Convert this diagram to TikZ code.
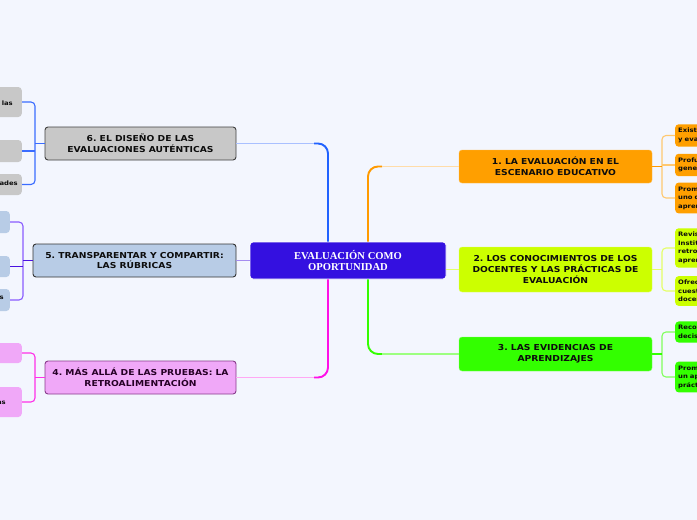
\documentclass[tikz,border=0pt]{standalone}
\usepackage{fontspec}
\newfontfamily\nf[FakeStretch=1.12]{DejaVu Sans}
\newfontfamily\cf{Liberation Serif}
\frenchspacing
\definecolor{bg}{HTML}{F3F6FE}
\definecolor{cCenter}{HTML}{3410E0}
\definecolor{cOne}{HTML}{FF9F00}
\definecolor{cTwo}{HTML}{CCFF00}
\definecolor{cThree}{HTML}{33FF00}
\definecolor{cSix}{HTML}{C8C8C8}
\definecolor{cFive}{HTML}{B8CCE6}
\definecolor{cFour}{HTML}{F0A8F8}
\definecolor{lnBlue}{HTML}{2062FF}
\definecolor{lnBlueL}{HTML}{A9C0FF}
\definecolor{lnOrange}{HTML}{FF9A00}
\definecolor{lnOrangeL}{HTML}{FFDCA8}
\definecolor{lnGreen}{HTML}{33FF00}
\definecolor{lnGreenL}{HTML}{9CFF80}
\definecolor{lnMag}{HTML}{FF10E8}
\definecolor{lnMagL}{HTML}{FFA8F4}
\definecolor{lnYel}{HTML}{E2FF70}
\definecolor{lnPur}{HTML}{A58CF0}
\definecolor{brOrange}{HTML}{FFC870}
\definecolor{brYel}{HTML}{E4FF66}
\definecolor{brGreen}{HTML}{80FF5C}
\definecolor{brBlue}{HTML}{3A6CFF}
\definecolor{brPur}{HTML}{8A5CFF}
\definecolor{brPurD}{HTML}{4A12E0}
\definecolor{brMag}{HTML}{FF30E8}
\begin{document}
\begin{tikzpicture}[x=1pt,y=-1pt,
  topic/.style={rounded corners=3pt, inner sep=0pt, align=center,
    font=\nf\bfseries\fontsize{8.2}{10.6}\selectfont, text=black!95},
  centerbox/.style={rounded corners=3pt, inner sep=0pt, align=center, fill=cCenter,
    draw=white, line width=0.8pt, text=white,
    font=\cf\bfseries\fontsize{10.6}{10.9}\selectfont},
  leafl/.style={rounded corners=3.5pt, inner sep=0pt, minimum width=80pt, anchor=east},
  rleaf/.style={rounded corners=3.5pt, anchor=west, inner xsep=3pt, inner ysep=4pt,
    text width=52pt, align=left, font=\nf\bfseries\fontsize{6.1}{8.5}\selectfont, text=black!95},
  ltext/.style={inner sep=0pt, anchor=east, font=\nf\bfseries\fontsize{6.1}{8.5}\selectfont, text=black!95},
  mainln/.style={line width=1.9pt, rounded corners=10pt},
  lightln/.style={line width=1.2pt},
  brk/.style={line width=1.1pt, rounded corners=4pt}
]
\useasboundingbox (0,0) rectangle (697,520);
\clip (0,0) rectangle (697,520);
\fill[bg] (0,0) rectangle (697,520);

% ---------- main nodes ----------
\node[centerbox, minimum width=196pt, minimum height=37pt] (c) at (348,260.5) {EVALUACIÓN COMO\\OPORTUNIDAD};
\node[topic, fill=cOne, draw=cOne!70!white, minimum width=193pt, minimum height=33pt] (n1) at (555.5,166.5) {1. LA EVALUACIÓN EN EL\\ESCENARIO EDUCATIVO};
\node[topic, fill=cTwo, draw=cTwo!60!white, minimum width=193pt, minimum height=45pt] (n2) at (555.5,269.5) {2. LOS CONOCIMIENTOS DE LOS\\DOCENTES Y LAS PRÁCTICAS DE\\EVALUACIÓN};
\node[topic, fill=cThree, draw=cThree!60!white, minimum width=193pt, minimum height=34pt] (n3) at (555.5,354) {3. LAS EVIDENCIAS DE\\APRENDIZAJES};
\node[topic, fill=cSix, draw=black!75, line width=0.9pt, minimum width=191pt, minimum height=33pt] (n6) at (140.5,143.5) {6. EL DISEÑO DE LAS\\EVALUACIONES AUTÉNTICAS};
\node[topic, fill=cFive, draw=black!80, line width=0.9pt, minimum width=203pt, minimum height=33pt] (n5) at (134.5,260.5) {5. TRANSPARENTAR Y COMPARTIR:\\LAS RÚBRICAS};
\node[topic, fill=cFour, draw=black!40!cFour!60!violet, line width=0.9pt, text=black!70!violet, minimum width=191pt, minimum height=33pt] (n4) at (140.5,377.5) {4. MÁS ALLÁ DE LAS PRUEBAS: LA\\RETROALIMENTACIÓN};

% ---------- main connectors ----------
\coordinate (xb) at (328,0);
\coordinate (xo) at (368,0);
\coordinate (b6) at (xb |- n6.east);
\coordinate (b1) at (xo |- n1.west);
\coordinate (b3) at (xo |- n3.west);
\coordinate (b4) at (xb |- n4.east);
\draw[mainln, lnBlue] (xb |- c.north) |- ([xshift=-14pt]b6);
\draw[lightln, lnBlueL] ([xshift=-14pt]b6) -- (n6.east);
\draw[mainln, lnOrange] (xo |- c.north) |- ([xshift=14pt]b1);
\draw[lightln, lnOrangeL] ([xshift=14pt]b1) -- (n1.west);
\draw[mainln, lnGreen] (xo |- c.south) |- ([xshift=14pt]b3);
\draw[lightln, lnGreenL] ([xshift=14pt]b3) -- (n3.west);
\draw[mainln, lnMag] (xb |- c.south) |- ([xshift=-14pt]b4);
\draw[lightln, lnMagL] ([xshift=-14pt]b4) -- (n4.east);
\draw[lightln, lnYel] (c.east |- n2.west) -- (n2.west);
\draw[lightln, lnPur] (c.west) -- (n5.east);

% ---------- left leaves ----------
\node[leafl, fill=cSix, minimum height=30pt] (l6a) at (22,102) {};
\node[leafl, fill=cSix, minimum height=22pt] (l6b) at (22,151) {};
\node[leafl, fill=cSix, minimum height=21pt] (l6c) at (22,184.5) {};
\node[ltext] (t6a) at (13,103) {las};
\node[ltext] (t6c) at (18,183) {ades};
\node[leafl, fill=cFive, minimum height=22pt] (l5a) at (10,222) {};
\node[leafl, fill=cFive, minimum height=21pt] (l5b) at (10,266.5) {};
\node[leafl, fill=cFive, minimum height=22pt] (l5c) at (10,300) {};
\node[ltext] (t5c) at (4,298) {s};
\node[leafl, fill=cFour, minimum height=20pt] (l4a) at (22,353) {};
\node[leafl, fill=cFour, minimum height=30pt] (l4b) at (22,402) {};
\node[ltext] (t4b) at (6,403) {as};

\coordinate (k6) at (35,0);
\coordinate (k5) at (23,0);
\coordinate (k4) at (35,0);
\draw[brk, brBlue] (l6a.east) -| (k6 |- n6.west) |- (l6c.east);
\draw[brk, brBlue] (k6 |- l6b.east) -- (l6b.east);
\draw[brk, brBlue] (n6.west) -- (k6 |- n6.west);
\draw[brk, brPur] (l5a.east) -| (k5 |- n5.west) |- (l5c.east);
\draw[brk, brPurD] (k5 |- l5b.east) -- (l5b.east);
\draw[brk, brPurD] (n5.west) -- (k5 |- n5.west);
\draw[brk, brMag] (l4a.east) -| (k4 |- n4.west) |- (l4b.east);
\draw[brk, brMag, line width=1.5pt] (n4.west) -- (k4 |- n4.west);

% ---------- right leaves ----------
\node[rleaf, fill=cOne] (l1a) at (675,135.5) {Existe\\y evalu};
\node[rleaf, fill=cOne] (l1b) at (675,165) {Profund\\genera};
\node[rleaf, fill=cOne] (l1c) at (675,198) {Promo\\uno de\\aprend};
\node[rleaf, fill=cTwo] (l2a) at (675,248) {Revisa\\Institu\\retroal\\aprend};
\node[rleaf, fill=cTwo] (l2b) at (675,291) {Ofrece\\cuesti\\docent};
\node[rleaf, fill=cThree] (l3a) at (675,332) {Recono\\decisi};
\node[rleaf, fill=cThree] (l3b) at (675,377) {Promo\\un apr\\práctic};

\coordinate (kr) at (662,0);
\draw[brk, brOrange] (l1a.west) -| (kr |- n1.east) |- (l1c.west);
\draw[brk, brOrange] (kr |- l1b.west) -- (l1b.west);
\draw[brk, lnOrange, line width=1.4pt] (n1.east) -- (kr |- n1.east);
\draw[brk, brYel] (l2a.west) -| (kr |- n2.east) |- (l2b.west);
\draw[brk, brYel, line width=1.4pt] (n2.east) -- (kr |- n2.east);
\draw[brk, brGreen] (l3a.west) -| (kr |- n3.east) |- (l3b.west);
\draw[brk, lnGreen, line width=1.4pt] (n3.east) -- (kr |- n3.east);
\end{tikzpicture}
\end{document}
